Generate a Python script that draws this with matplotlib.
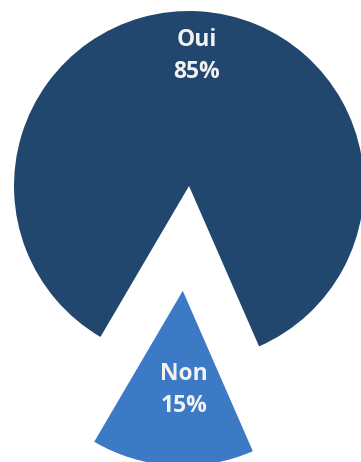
import numpy as np
import matplotlib.pyplot as plt

labels = ["Oui", "Non"]
shares = [85, 15]
colors = ["#22476F", "#3C7AC5"]
explode = [0.0, 0.6]  # fraction of the radius

W, H = 361, 462
fig = plt.figure(figsize=(W / 100, H / 100), dpi=100)
ax = fig.add_axes([0, 0, 1, 1])

R = 175
# pie() offsets exploded wedges in data units, so scale by the radius
wedges, _ = ax.pie(shares, colors=colors, explode=[e * R for e in explode],
                   radius=R, center=(189, 276), startangle=293.6,
                   counterclock=True, frame=True,
                   wedgeprops=dict(linewidth=0))
ax.set_xlim(0, W)
ax.set_ylim(0, H)
ax.set_aspect("equal")
ax.axis("off")

# label each wedge along its bisector, with a small sideways nudge
label_dist = [0.745, 0.57]
label_dx = [0, 7]
for w, lab, val, d, dx in zip(wedges, labels, shares, label_dist, label_dx):
    mid = np.deg2rad((w.theta1 + w.theta2) / 2)
    cx, cy = w.center
    ax.text(cx + d * R * np.cos(mid) + dx, cy + d * R * np.sin(mid),
            f"{lab}\n{val}%", ha="center", va="center", color="#F2F2F2",
            fontsize=16.5, fontweight="bold", family="Open Sans",
            linespacing=1.45)

fig.savefig("out.png", dpi=100)
